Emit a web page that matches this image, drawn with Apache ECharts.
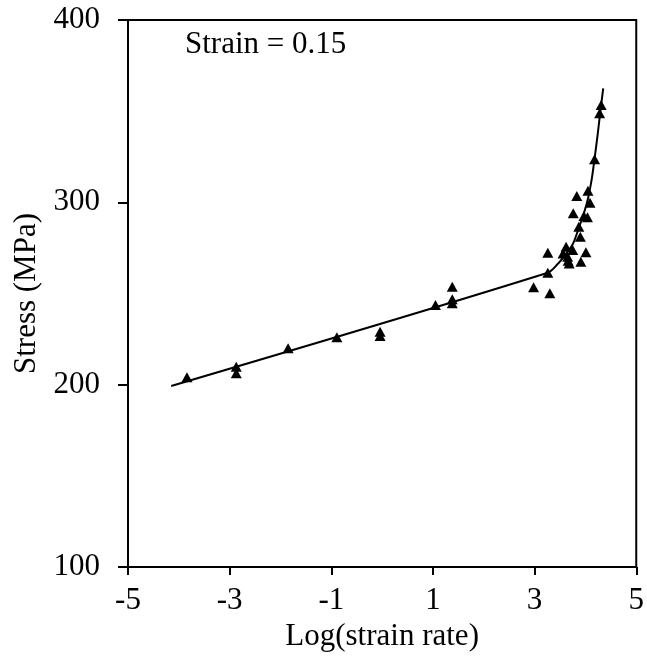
<!DOCTYPE html>
<html>
<head>
<meta charset="utf-8">
<script src="https://cdn.jsdelivr.net/npm/echarts@6/dist/echarts.min.js"></script>
<style>
  html, body { margin: 0; padding: 0; background: #fff; }
  #chart { width: 647px; height: 659px; }
</style>
</head>
<body>
<div id="chart"></div>
<script>
// measured points: log(strain rate), stress (MPa)
const logRate = [-3.84, -2.87, -2.87, -1.85, -0.89, -0.04, -0.04, 1.05, 1.38, 1.38, 1.38,
  2.98, 3.30, 3.26, 3.26, 3.56, 3.62, 3.65, 3.66, 3.68, 3.75, 3.76, 3.83, 3.87, 3.90,
  3.91, 3.97, 4.01, 4.04, 4.05, 4.09, 4.18, 4.28, 4.31];
const stress = [204, 209.8, 206.2, 220, 226, 229, 226.7, 243.7, 253.7, 246.8, 244.6,
  253.4, 250.1, 272.4, 261.4, 272, 275.6, 270.2, 268, 266.5, 273.8, 294, 303.5, 286.6, 281.1,
  267.4, 292.5, 272.6, 291.8, 306.4, 299.8, 323.6, 348.8, 353.4];

// fitted curve
const fitX = [-4.15, 3.26, 3.45, 3.6, 3.75, 3.87, 3.97, 4.05, 4.12, 4.18, 4.24, 4.29, 4.35];
const fitY = [199.3, 261.4, 266, 271, 277, 286, 294, 302, 312, 324, 337, 349, 362.5];

const xTicks = [-5, 5, 2];
const yTicks = [100, 400, 100];

const font = "'Liberation Serif', 'Times New Roman', serif";
const fs = 31;
const chart = echarts.init(document.getElementById("chart"));

chart.setOption({
  animation: false,
  grid: {
    left: 128,
    right: 9,
    top: 20,
    bottom: 92,
    show: true,
    borderColor: "#000",
    borderWidth: 2,
  },
  graphic: [
    {
      type: "text",
      left: 185,
      top: 29,
      style: { text: "Strain = 0.15", font: fs + "px " + font, fill: "#000" },
    },
  ],
  xAxis: {
    type: "value",
    min: xTicks[0],
    max: xTicks[1],
    interval: xTicks[2],
    name: "Log(strain rate)",
    nameLocation: "middle",
    nameGap: 53,
    nameTextStyle: { fontFamily: font, fontSize: fs, color: "#000" },
    axisLine: { onZero: false, lineStyle: { color: "#000", width: 2 } },
    axisTick: { show: true, length: 8, lineStyle: { color: "#000", width: 2 } },
    axisLabel: { fontFamily: font, fontSize: fs, color: "#000", margin: 18 },
    splitLine: { show: false },
  },
  yAxis: {
    type: "value",
    min: yTicks[0],
    max: yTicks[1],
    interval: yTicks[2],
    name: "Stress (MPa)",
    nameLocation: "middle",
    nameGap: 84,
    nameTextStyle: { fontFamily: font, fontSize: fs, color: "#000" },
    axisLine: { show: true, onZero: false, lineStyle: { color: "#000", width: 2 } },
    axisTick: { show: true, length: 10, lineStyle: { color: "#000", width: 2 } },
    axisLabel: { fontFamily: font, fontSize: fs, color: "#000", margin: 28 },
    splitLine: { show: false },
  },
  series: [
    {
      type: "line",
      data: fitX.map((x, i) => [x, fitY[i]]),
      smooth: 0.3,
      showSymbol: false,
      lineStyle: { color: "#000", width: 2 },
      z: 2,
    },
    {
      type: "scatter",
      data: logRate.map((x, i) => [x, stress[i]]),
      symbol: "triangle",
      symbolSize: [11, 10],
      itemStyle: { color: "#000", opacity: 1 },
      z: 3,
    },
  ],
});
</script>
</body>
</html>
